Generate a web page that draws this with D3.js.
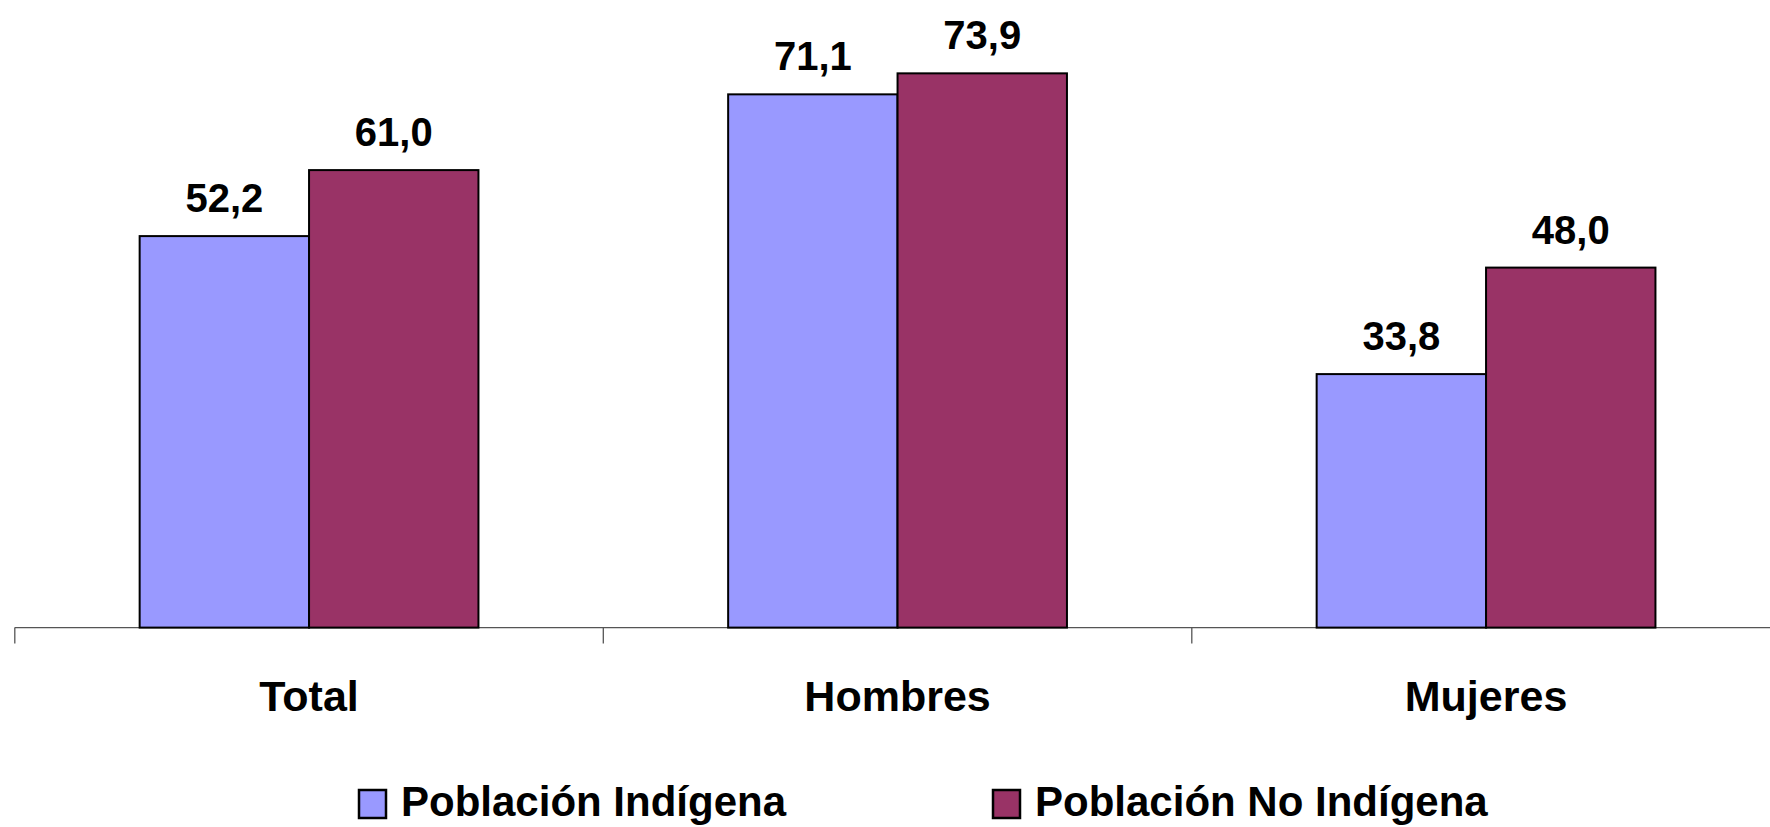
<!DOCTYPE html>
<html><head><meta charset="utf-8">
<script src="https://cdn.jsdelivr.net/npm/d3@7"></script>
<style>body{margin:0;background:#fff}svg{display:block}text{font-family:Arial,"Liberation Sans",sans-serif;font-weight:bold}</style>
</head><body><svg id="c" width="1770" height="827"></svg>
<script>
const categories = ["Total", "Hombres", "Mujeres"];
const series = ["Población Indígena", "Población No Indígena"];
const valuesIndigena = [52.2, 71.1, 33.8];
const valuesNoIndigena = [61.0, 73.9, 48.0];
const valueLabelsIndigena = ["52,2", "71,1", "33,8"];
const valueLabelsNoIndigena = ["61,0", "73,9", "48,0"];
const colors = ["#9999FF", "#993366"];

const svg = d3.select("#c");
const baseY = 627.6;
const x = d3.scaleBand().domain(categories).range([14.8, 14.8 + 3 * 588.5]).padding(0);
const xs = d3.scaleBand().domain(series).range([0, x.bandwidth()]).paddingInner(0).paddingOuter(0.737);
const y = d3.scaleLinear().domain([0, 80]).range([baseY, baseY - 600]);

const data = [];
categories.forEach((c, i) => {
  data.push({cat: c, s: series[0], v: valuesIndigena[i], lab: valueLabelsIndigena[i], col: colors[0]});
  data.push({cat: c, s: series[1], v: valuesNoIndigena[i], lab: valueLabelsNoIndigena[i], col: colors[1]});
});

// axis
svg.append("line").attr("x1", x.range()[0]).attr("x2", 1770).attr("y1", baseY).attr("y2", baseY)
  .attr("stroke", "#555").attr("stroke-width", 1.3);
categories.forEach(c => {
  svg.append("line").attr("x1", x(c)).attr("x2", x(c)).attr("y1", baseY).attr("y2", baseY + 16)
    .attr("stroke", "#555").attr("stroke-width", 1.3);
});

// bars
svg.selectAll("rect.bar").data(data).enter().append("rect").attr("class", "bar")
  .attr("x", d => x(d.cat) + xs(d.s))
  .attr("y", d => y(d.v))
  .attr("width", xs.bandwidth())
  .attr("height", d => baseY - y(d.v))
  .attr("fill", d => d.col)
  .attr("stroke", "#000").attr("stroke-width", 2);

// value labels
svg.selectAll("text.val").data(data).enter().append("text").attr("class", "val")
  .attr("x", d => x(d.cat) + xs(d.s) + xs.bandwidth() / 2)
  .attr("y", d => y(d.v) - 24)
  .attr("text-anchor", "middle").attr("font-size", 40).attr("fill", "#000")
  .text(d => d.lab);

// category labels
svg.selectAll("text.cat").data(categories).enter().append("text").attr("class", "cat")
  .attr("x", d => x(d) + x.bandwidth() / 2)
  .attr("y", 711)
  .attr("text-anchor", "middle").attr("font-size", 43).attr("fill", "#000")
  .text(d => d);

// legend
const legX = [359, 993];
series.forEach((s, i) => {
  svg.append("rect").attr("x", legX[i]).attr("y", 790).attr("width", 27).attr("height", 28)
    .attr("fill", colors[i]).attr("stroke", "#000").attr("stroke-width", 2.5);
  svg.append("text").attr("x", legX[i] + 42).attr("y", 816).attr("font-size", 42).attr("fill", "#000").text(s);
});
</script></body></html>
